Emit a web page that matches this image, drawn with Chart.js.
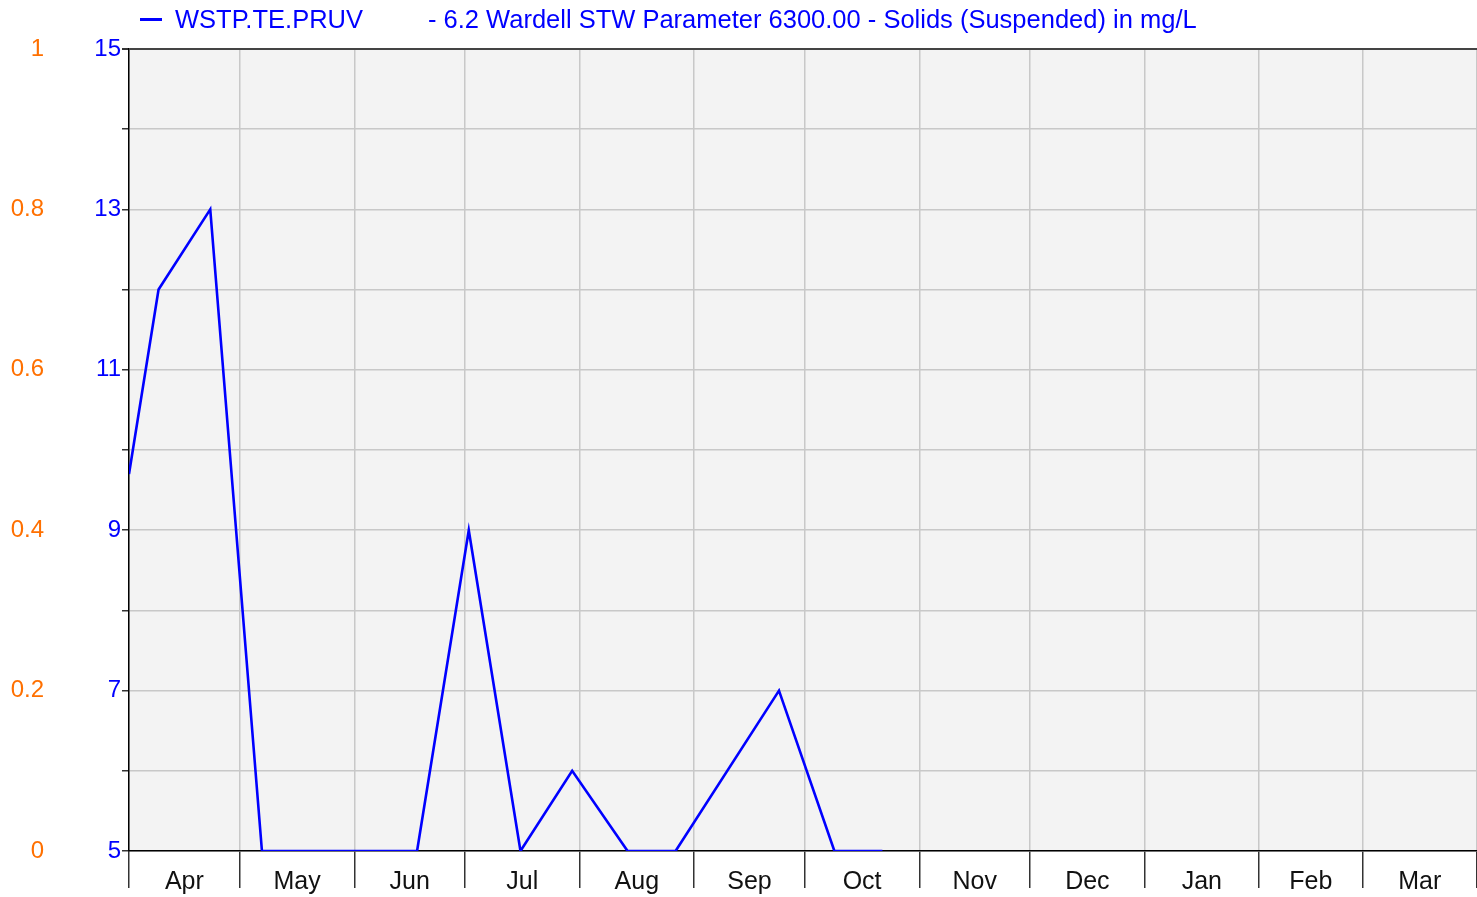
<!DOCTYPE html>
<html><head><meta charset="utf-8">
<script src="https://cdn.jsdelivr.net/npm/chart.js@4.4.1/dist/chart.umd.min.js"></script>
<style>html,body{margin:0;padding:0;background:#fff;overflow:hidden;}</style>
</head><body>
<canvas id="c" width="1477" height="897"></canvas>
<script>
const seriesName = 'WSTP.TE.PRUV';
const seriesTitle = '- 6.2 Wardell STW Parameter 6300.00 - Solids (Suspended) in mg/L';
const sampleDates = ['2022-04-01','2022-04-09','2022-04-23','2022-05-07','2022-06-18','2022-07-02','2022-07-16','2022-07-30','2022-08-14','2022-08-27','2022-09-24','2022-10-09','2022-10-22'];
const solidsValues = [9.7, 12, 13, 5, 5, 9, 5, 6, 5, 5, 7, 5, 5];
const monthLabels = ['Apr','May','Jun','Jul','Aug','Sep','Oct','Nov','Dec','Jan','Feb','Mar'];
const monthStarts = ['2022-04-01','2022-05-01','2022-06-01','2022-07-01','2022-08-01','2022-09-01','2022-10-01','2022-11-01','2022-12-01','2023-01-01','2023-02-01','2023-03-01','2023-04-01'];
const blueAxisLabels = [5, 7, 9, 11, 13, 15];
const orangeAxisLabels = ['0', '0.2', '0.4', '0.6', '0.8', '1'];

const FONT = "'Liberation Sans', Arial, sans-serif";
const BLUE = '#0000ff';
const ORANGE = '#ff7000';
const DAY = 86400000;
const base = Date.parse(monthStarts[0] + 'T00:00:00Z');
const dayOf = s => Math.round((Date.parse(s + 'T00:00:00Z') - base) / DAY);

const points = sampleDates.map((d, i) => ({ x: dayOf(d), y: solidsValues[i] }));
const boundaries = monthStarts.map(dayOf);
const mids = monthLabels.map((m, i) => (boundaries[i] + boundaries[i + 1]) / 2);
const boundarySet = new Set(boundaries);
const midLabel = new Map(mids.map((v, i) => [v, monthLabels[i]]));
const endDay = boundaries[boundaries.length - 1];

const bgPlugin = {
  id: 'plotBg',
  beforeDraw(chart) {
    const { ctx, chartArea: a } = chart;
    ctx.save();
    ctx.fillStyle = '#f3f3f3';
    ctx.fillRect(a.left, a.top, a.right - a.left, a.bottom - a.top);
    ctx.restore();
  }
};
const headerPlugin = {
  id: 'header',
  afterDraw(chart) {
    const { ctx } = chart;
    ctx.save();
    ctx.strokeStyle = BLUE;
    ctx.lineWidth = 3;
    ctx.beginPath();
    ctx.moveTo(140, 19.5);
    ctx.lineTo(162, 19.5);
    ctx.stroke();
    ctx.fillStyle = BLUE;
    ctx.font = '25.5px ' + FONT;
    ctx.textBaseline = 'alphabetic';
    ctx.textAlign = 'left';
    ctx.fillText(seriesName, 175, 28);
    ctx.fillText(seriesTitle, 428, 28);
    ctx.restore();
  }
};

new Chart(document.getElementById('c'), {
  type: 'line',
  data: {
    datasets: [{
      label: seriesName,
      data: points,
      borderColor: BLUE,
      borderWidth: 2.6,
      pointRadius: 0,
      tension: 0,
      fill: false,
      xAxisID: 'x',
      yAxisID: 'y'
    }]
  },
  options: {
    responsive: false,
    animation: false,
    devicePixelRatio: 1,
    layout: { padding: { top: 49, left: 0, right: 0, bottom: 0 } },
    plugins: { legend: { display: false }, tooltip: { enabled: false }, title: { display: false } },
    scales: {
      x: {
        type: 'linear',
        position: 'bottom',
        min: 0,
        max: endDay,
        afterBuildTicks(scale) {
          const vals = [...boundaries, ...mids].sort((a, b) => a - b);
          scale.ticks = vals.map(v => ({ value: v }));
        },
        afterFit(scale) { scale.height = 46; },
        ticks: {
          autoSkip: false,
          maxRotation: 0,
          padding: -21,
          color: '#111',
          font: { family: FONT, size: 25 },
          callback: v => midLabel.get(v) || ''
        },
        grid: {
          color: c => boundarySet.has(c.tick && c.tick.value) ? '#c8c8c8' : 'rgba(0,0,0,0)',
          tickColor: c => boundarySet.has(c.tick && c.tick.value) ? '#333' : 'rgba(0,0,0,0)',
          tickLength: 37,
          lineWidth: 1.5
        },
        border: { color: '#000', width: 1.5 }
      },
      y: {
        type: 'linear',
        position: 'left',
        weight: 0,
        min: 5,
        max: 15,
        afterFit(scale) { scale.width = 79; },
        ticks: {
          stepSize: 1,
          padding: 1,
          color: BLUE,
          font: { family: FONT, size: 24 },
          callback: v => blueAxisLabels.includes(v) ? String(v) : ''
        },
        grid: {
          color: c => (c.tick && c.tick.value === 15) ? '#444' : '#c8c8c8',
          lineWidth: c => (c.tick && c.tick.value === 15) ? 2 : 1.5,
          tickColor: '#333',
          tickLength: 7
        },
        border: { color: '#000', width: 1.5 }
      },
      y1: {
        type: 'linear',
        position: 'left',
        weight: 1,
        min: 0,
        max: 1,
        afterFit(scale) { scale.width = 50; },
        afterBuildTicks(scale) {
          scale.ticks = orangeAxisLabels.map(s => ({ value: parseFloat(s) }));
        },
        ticks: {
          padding: -2,
          color: ORANGE,
          font: { family: FONT, size: 24 },
          callback: (v, i) => orangeAxisLabels[i]
        },
        grid: { display: false },
        border: { display: false }
      }
    }
  },
  plugins: [bgPlugin, headerPlugin]
});
</script>
</body></html>
